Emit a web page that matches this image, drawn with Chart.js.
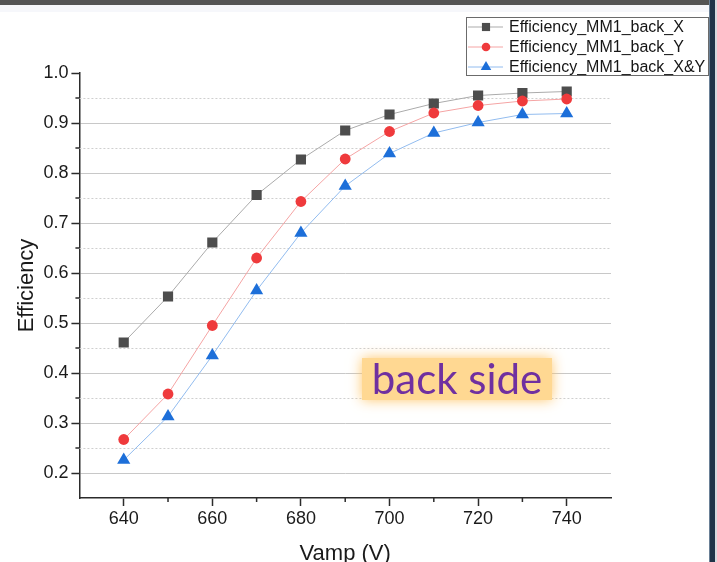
<!DOCTYPE html>
<html>
<head>
<meta charset="utf-8">
<title>Efficiency MM1 back</title>
<script src="https://cdn.jsdelivr.net/npm/chart.js@4.4.1/dist/chart.umd.min.js"></script>
<style>
  html, body { margin: 0; padding: 0; background: #fff; overflow: hidden; }
  #wrap { position: relative; width: 717px; height: 562px; overflow: hidden; }
  #chartBox { position: absolute; left: 0; top: 0; width: 717px; height: 580px; }
  #topbar { position: absolute; left: 0; top: 0; width: 717px; height: 5px; background: #545454; }
  #topstrip { position: absolute; left: 0; top: 5px; width: 709px; height: 7px; background: #f6f7fb; }
  #rightbar { position: absolute; left: 709px; top: 0; width: 5px; height: 562px; background: #1f3448; border-left: 1px solid #6a8096; }
  #rightedge { position: absolute; left: 715px; top: 0; width: 2px; height: 562px; background: #d6dade; }
</style>
</head>
<body>
<div id="wrap">
  <div id="chartBox"><canvas id="effChart" width="717" height="580"></canvas></div>
  <div id="topbar"></div>
  <div id="topstrip"></div>
  <div id="rightbar"></div>
  <div id="rightedge"></div>
</div>
<script>
// amplification voltage (V)
const vamp = [640, 650, 660, 670, 680, 690, 700, 710, 720, 730, 740];
// efficiency per readout direction
const effX  = [0.461, 0.553, 0.661, 0.756, 0.827, 0.885, 0.917, 0.939, 0.955, 0.960, 0.963];
const effY  = [0.267, 0.358, 0.495, 0.630, 0.743, 0.828, 0.883, 0.920, 0.935, 0.944, 0.948];
const effXY = [0.226, 0.313, 0.435, 0.565, 0.680, 0.774, 0.839, 0.880, 0.901, 0.917, 0.919];

const seriesNames = ['Efficiency_MM1_back_X', 'Efficiency_MM1_back_Y', 'Efficiency_MM1_back_X&Y'];
const noteText = 'back side';

const FONT = "'Liberation Sans', Arial, sans-serif";
const AXIS_COLOR = '#2b2b2b';

const isMajorY = v => Math.round(v * 100) % 10 === 0;
const isMajorX = v => Math.round(v) % 20 === 0;

function toPoints(ys) {
    return vamp.map((x, i) => ({ x: x, y: ys[i] }));
}

// minor grid (dotted) and short minor ticks, Origin style
const minorGrid = {
    id: 'minorGrid',
    beforeDatasetsDraw(chart) {
        const { ctx, chartArea, scales } = chart;
        ctx.save();
        ctx.strokeStyle = '#cfcfcf';
        ctx.lineWidth = 1;
        ctx.setLineDash([2, 2]);
        scales.y.ticks.forEach(t => {
            if (isMajorY(t.value) || t.value < 0.2) return;
            const y = Math.round(scales.y.getPixelForValue(t.value)) + 0.5;
            ctx.beginPath();
            ctx.moveTo(chartArea.left, y);
            ctx.lineTo(chartArea.right, y);
            ctx.stroke();
        });
        ctx.restore();
    },
    afterDraw(chart) {
        const { ctx, chartArea, scales } = chart;
        ctx.save();
        ctx.strokeStyle = AXIS_COLOR;
        ctx.lineWidth = 1.5;
        scales.y.ticks.forEach(t => {
            if (isMajorY(t.value) || t.value < 0.2) return;
            const y = scales.y.getPixelForValue(t.value);
            ctx.beginPath();
            ctx.moveTo(chartArea.left - 4, y);
            ctx.lineTo(chartArea.left, y);
            ctx.stroke();
        });
        scales.x.ticks.forEach(t => {
            if (isMajorX(t.value) || t.value < 640 || t.value > 740) return;
            const x = scales.x.getPixelForValue(t.value);
            ctx.beginPath();
            ctx.moveTo(x, chartArea.bottom);
            ctx.lineTo(x, chartArea.bottom + 4);
            ctx.stroke();
        });
        ctx.restore();
    }
};

// boxed legend in the upper right corner
const boxLegend = {
    id: 'boxLegend',
    afterDraw(chart) {
        const ctx = chart.ctx;
        const left = 466, top = 17, w = 243, h = 59;
        const rowH = 20;
        ctx.save();
        ctx.fillStyle = '#fff';
        ctx.fillRect(left, top, w, h);
        ctx.strokeStyle = '#6b6b6b';
        ctx.lineWidth = 1;
        ctx.strokeRect(left + 0.5, top + 0.5, w - 1, h - 1);
        chart.data.datasets.forEach((ds, i) => {
            const y = top + 10 + i * rowH;
            ctx.strokeStyle = ds.borderColor;
            ctx.lineWidth = 1;
            ctx.beginPath();
            ctx.moveTo(left + 2, y);
            ctx.lineTo(left + 37, y);
            ctx.stroke();
            ctx.fillStyle = ds.pointBackgroundColor;
            ctx.strokeStyle = ds.pointBackgroundColor;
            Chart.helpers.drawPoint(ctx, {
                pointStyle: ds.pointStyle,
                radius: ds.pointRadius * 0.8,
                rotation: 0,
                borderWidth: 0
            }, left + 20, y);
            ctx.fillStyle = '#151515';
            ctx.font = '16px ' + FONT;
            ctx.textBaseline = 'middle';
            ctx.textAlign = 'left';
            ctx.fillText(ds.label, left + 43, y + 1);
        });
        ctx.restore();
    }
};

// highlighted text note with soft orange glow
const sideNote = {
    id: 'sideNote',
    afterDraw(chart) {
        const ctx = chart.ctx;
        ctx.save();
        ctx.fillStyle = '#ffd892';
        ctx.shadowColor = 'rgba(255, 196, 100, 0.95)';
        ctx.shadowBlur = 12;
        ctx.fillRect(362, 358, 190, 42);
        ctx.shadowBlur = 0;
        ctx.shadowColor = 'transparent';
        ctx.fillStyle = '#7030a0';
        ctx.font = '42px Lato, "Open Sans", sans-serif';
        ctx.textAlign = 'center';
        ctx.textBaseline = 'alphabetic';
        ctx.fillText(noteText, 457, 394);
        ctx.restore();
    }
};

new Chart(document.getElementById('effChart'), {
    type: 'line',
    data: {
        datasets: [
            {
                label: seriesNames[0],
                data: toPoints(effX),
                borderColor: '#ababab',
                pointBackgroundColor: '#4d4d4d',
                pointBorderColor: '#4d4d4d',
                pointStyle: 'rect',
                pointRadius: 7.2,
                order: 3
            },
            {
                label: seriesNames[1],
                data: toPoints(effY),
                borderColor: '#f5a4a4',
                pointBackgroundColor: '#ef3a3c',
                pointBorderColor: '#ef3a3c',
                pointStyle: 'circle',
                pointRadius: 5.4,
                order: 2
            },
            {
                label: seriesNames[2],
                data: toPoints(effXY),
                borderColor: '#92bcef',
                pointBackgroundColor: '#1d6fd9',
                pointBorderColor: '#1d6fd9',
                pointStyle: 'triangle',
                pointRadius: 7.6,
                order: 1
            }
        ]
    },
    options: {
        responsive: false,
        animation: false,
        events: [],
        layout: { padding: { left: 10, right: 106, top: 73, bottom: 9 } },
        elements: {
            line: { borderWidth: 1, tension: 0, fill: false },
            point: { borderWidth: 0, hoverRadius: 0 }
        },
        plugins: {
            legend: { display: false },
            tooltip: { enabled: false }
        },
        scales: {
            x: {
                type: 'linear',
                min: 630,
                max: 750,
                border: { color: AXIS_COLOR, width: 1.5 },
                grid: {
                    drawOnChartArea: false,
                    tickLength: 8,
                    tickWidth: 1.5,
                    tickColor: c => (isMajorX(c.tick.value) && c.tick.value > 630 && c.tick.value < 750) ? AXIS_COLOR : 'rgba(0,0,0,0)'
                },
                ticks: {
                    stepSize: 10,
                    autoSkip: false,
                    maxRotation: 0,
                    padding: 2,
                    color: '#1a1a1a',
                    font: { family: FONT, size: 18 },
                    callback: v => (isMajorX(v) && v > 630 && v < 750) ? String(v) : ''
                },
                title: {
                    display: true,
                    text: 'Vamp (V)',
                    color: '#1a1a1a',
                    padding: { top: 9, bottom: 4 },
                    font: { family: FONT, size: 22 }
                }
            },
            y: {
                min: 0.15,
                max: 1.0,
                border: { color: AXIS_COLOR, width: 1.5 },
                grid: {
                    color: c => (isMajorY(c.tick.value) && c.tick.value > 0.15 && c.tick.value < 0.95) ? '#c8c8c8' : 'rgba(0,0,0,0)',
                    lineWidth: 1,
                    tickLength: 8,
                    tickWidth: 1.5,
                    tickColor: c => (isMajorY(c.tick.value) && c.tick.value > 0.15) ? AXIS_COLOR : 'rgba(0,0,0,0)'
                },
                ticks: {
                    stepSize: 0.05,
                    autoSkip: false,
                    padding: 3,
                    color: '#1a1a1a',
                    font: { family: FONT, size: 18 },
                    callback: v => (isMajorY(v) && v > 0.15) ? v.toFixed(1) : ''
                },
                title: {
                    display: true,
                    text: 'Efficiency',
                    color: '#1a1a1a',
                    padding: { top: 4, bottom: 0 },
                    font: { family: FONT, size: 22 }
                }
            }
        }
    },
    plugins: [minorGrid, sideNote, boxLegend]
});
</script>
</body>
</html>
